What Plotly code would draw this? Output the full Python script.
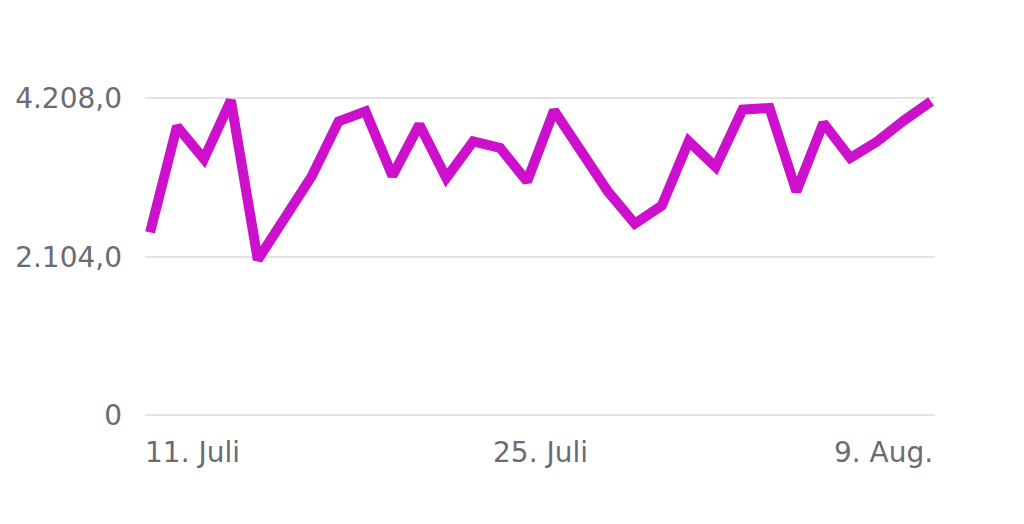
import plotly.graph_objects as go
import pandas as pd

# Daily values, 11 July to 9 August
dates = pd.date_range("2024-07-11", "2024-08-09", freq="D")
values = [2427, 3832, 3400, 4177, 2065, 2621, 3169, 3898, 4031, 3178,
          3855, 3148, 3633, 3546, 3103, 4044, 3501, 2970, 2542, 2781,
          3633, 3294, 4054, 4076, 2970, 3877, 3413, 3633, 3912, 4164]

y_ticks = [0, 2104, 4208]
y_tick_text = ["0", "2.104,0", "4.208,0"]

x_labels = ["11. Juli", "25. Juli", "9. Aug."]
x_label_pos = [dates[0], dates[0] + (dates[-1] - dates[0]) / 2, dates[-1]]
x_label_anchor = ["left", "center", "right"]
x_label_shift = [-7, 0, 4]

fig = go.Figure()

fig.add_trace(go.Scatter(
    x=dates,
    y=values,
    mode="lines",
    line=dict(color="#cc10cc", width=10, shape="linear"),
    hoverinfo="skip",
    showlegend=False
))

# x labels: first left-aligned, middle centred, last right-aligned
for txt, pos, anchor, shift in zip(x_labels, x_label_pos, x_label_anchor, x_label_shift):
    fig.add_annotation(
        x=pos, y=-0.085, xref="x", yref="paper",
        text=txt, showarrow=False,
        xanchor=anchor, yanchor="middle", xshift=shift,
        font=dict(size=28, color="#6b6b71")
    )

fig.update_layout(
    width=1024,
    height=524,
    margin=dict(l=137, r=97, t=68, b=109),
    paper_bgcolor="white",
    plot_bgcolor="white",
    font=dict(family="DejaVu Sans, sans-serif", size=28, color="#6b6b71"),
    xaxis=dict(
        range=[dates[0] - pd.Timedelta(hours=4.5), dates[-1] + pd.Timedelta(hours=3.5)],
        showgrid=False,
        showticklabels=False,
        zeroline=False,
        showline=False,
        ticks="",
        automargin=False
    ),
    yaxis=dict(
        range=[-100, 4500],
        tickvals=y_ticks,
        ticktext=y_tick_text,
        showgrid=True,
        gridcolor="#e3e3e8",
        gridwidth=1.5,
        zeroline=False,
        showline=False,
        ticks="",
        ticklabelstandoff=22,
        automargin=False
    )
)

fig.write_html("out.html")
